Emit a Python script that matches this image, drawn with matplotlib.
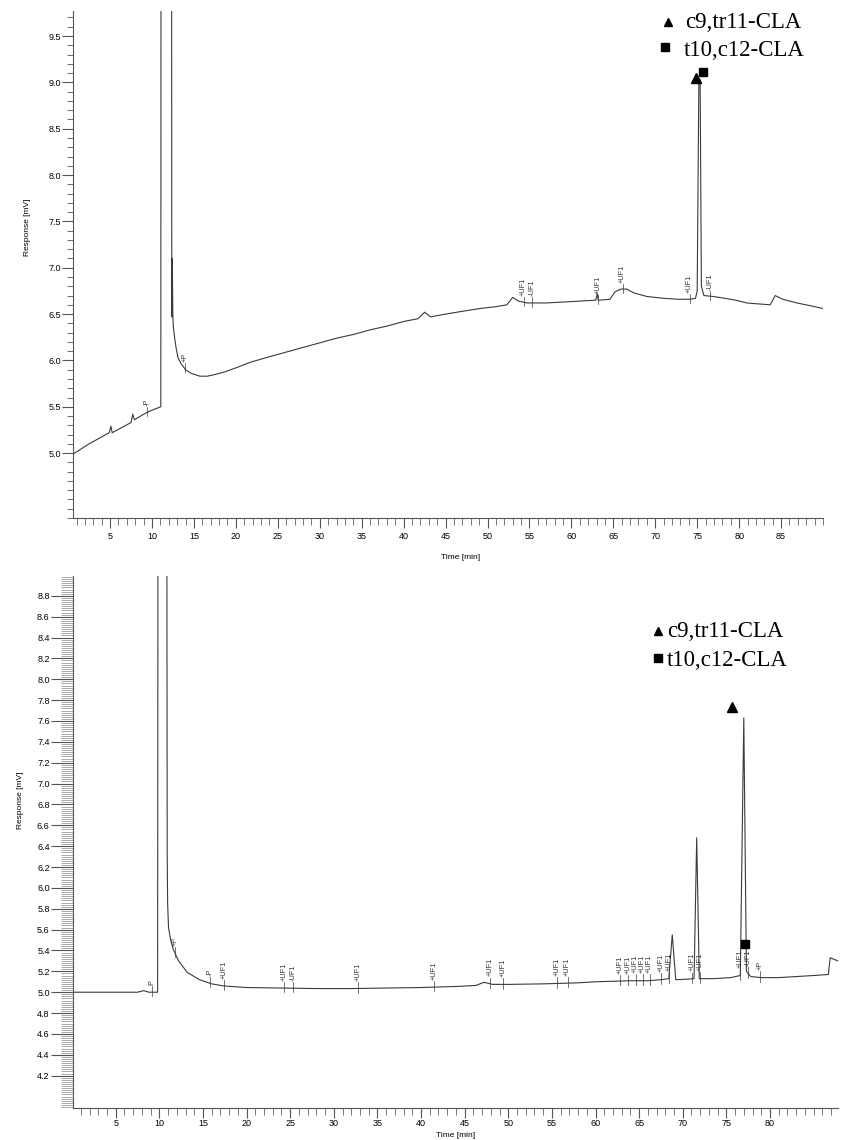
import matplotlib
matplotlib.use("Agg")
import matplotlib.pyplot as plt
from matplotlib.ticker import MultipleLocator
import numpy as np

# ---------------- data: upper chromatogram ----------------
top_time = [0.58, 2.5, 4.9, 5.1, 5.25, 7.5, 7.7, 7.9, 9.4, 10.2, 11.05,
            11.08, 12.33, 12.36, 12.42, 12.48, 12.55, 12.7, 12.9, 13.1, 13.5,
            14.0, 14.7, 15.7, 16.6, 17.6, 18.8, 20.3, 21.7, 24, 26, 28, 30, 32,
            34, 36, 38, 40, 41.7, 42.5, 43.2, 45, 47, 49.1, 51, 52.3, 53.0,
            53.7, 54.7, 55.4, 57, 59, 61.0, 62.9, 63.1, 63.2, 63.3, 64.6,
            65.2, 65.9, 66.6, 67.4, 69.0, 71.0, 72.8, 74.1, 74.8, 75.0,
            75.2, 75.35, 75.5, 75.8, 76.9, 78.3, 79.6, 80.9, 82.3, 83.7, 84.3,
            85.2, 86.9, 88.5, 90.0]
top_resp = [4.99, 5.10, 5.22, 5.29, 5.22, 5.33, 5.42, 5.36, 5.44, 5.47, 5.50,
            12.0, 12.0, 6.47, 7.10, 6.48, 6.36, 6.24, 6.12, 6.03, 5.96,
            5.90, 5.86, 5.83, 5.83, 5.85, 5.88, 5.93, 5.98, 6.04, 6.09, 6.14,
            6.19, 6.24, 6.28, 6.33, 6.37, 6.42, 6.45, 6.52, 6.47, 6.50, 6.53,
            6.56, 6.58, 6.60, 6.68, 6.64, 6.62, 6.62, 6.62, 6.63, 6.64, 6.65,
            6.72, 6.65, 6.65, 6.66, 6.74, 6.77, 6.77, 6.73, 6.69, 6.67, 6.66,
            6.66, 6.67, 6.75, 9.03, 9.03, 6.80, 6.70, 6.69, 6.67, 6.65, 6.62,
            6.61, 6.60, 6.70, 6.66, 6.62, 6.59, 6.56]
top_label_text = ["-P", "+P", "+UF1", "-UF1", "+UF1", "+UF1", "+UF1", "-UF1"]
top_label_time = [9.4, 13.9, 54.3, 55.3, 63.2, 66.1, 74.1, 76.5]

# ---------------- data: lower chromatogram ----------------
bot_time = [0.1, 4.0, 7.5, 8.2, 8.8, 9.2, 9.8, 9.84, 10.86, 10.9, 10.95,
            11.05, 11.3, 11.6, 12.2, 13.2, 14.6, 16.0, 17.4, 20.0, 24.0, 28.0,
            32.0, 36.0, 40.0, 44.0, 46.3, 47.2, 48.2, 50.0, 54.0, 58.0, 60.0,
            62.0, 64.0, 66.0, 67.5, 68.4, 68.8, 69.2, 70.5, 71.3, 71.6, 71.9,
            73.5, 75.5, 76.6, 77.0, 77.3, 77.8, 79.0, 81.0, 83.0, 85.0, 86.7,
            86.9, 87.8]
bot_resp = [5.00, 5.00, 5.00, 5.015, 5.00, 5.00, 5.00, 9.5, 9.5, 6.30, 5.85,
            5.62, 5.50, 5.41, 5.30, 5.19, 5.12, 5.08, 5.06, 5.045, 5.04, 5.035,
            5.035, 5.04, 5.045, 5.055, 5.065, 5.095, 5.075, 5.075, 5.08, 5.09,
            5.10, 5.105, 5.11, 5.11, 5.12, 5.13, 5.55, 5.12, 5.125, 5.13, 6.48,
            5.13, 5.13, 5.14, 5.16, 7.63, 5.20, 5.15, 5.14, 5.14, 5.15, 5.16,
            5.17, 5.33, 5.30]
bot_label_text = ["P", "+P", "-P", "+UF1", "+UF1", "-UF1", "+UF1", "+UF1",
                  "+UF1", "+UF1", "+UF1", "+UF1", "+UF1", "+UF1", "+UF1",
                  "+UF1", "+UF1", "+UF1", "+UF1", "+UF1", "+UF1", "+UF1",
                  "-UF1", "+P"]
bot_label_time = [9.15, 11.8, 15.8, 17.4, 24.3, 25.3, 32.8, 41.5, 47.9, 49.4,
                  55.6, 56.8, 62.8, 63.7, 64.6, 65.4, 66.2, 67.5, 68.4, 71.1,
                  72.0, 76.6, 77.5, 78.9]

peak_names = ["c9,tr11-CLA", "t10,c12-CLA"]
top_marker_time = [74.85, 75.7]
top_marker_resp = [9.05, 9.11]
bot_marker_time = [75.6, 77.1]
bot_marker_resp = [7.73, 5.46]

LINE = "#3a3a3a"
plt.rcParams["font.family"] = ["Liberation Sans", "DejaVu Sans"]

W, H = 843, 1140
fig = plt.figure(figsize=(W / 100, H / 100), dpi=100)


def px_axes(x0, y0, x1, y1):
    return fig.add_axes([x0 / W, 1 - y1 / H, (x1 - x0) / W, (y1 - y0) / H])


def style(ax, ymajor, yminor, yminor_color, ymajor_len, yminor_len, xpad):
    for s in ("top", "right"):
        ax.spines[s].set_visible(False)
    for s in ("left", "bottom"):
        ax.spines[s].set_color("#555555")
        ax.spines[s].set_linewidth(0.8)
    ax.xaxis.set_major_locator(MultipleLocator(5))
    ax.xaxis.set_minor_locator(MultipleLocator(1))
    ax.yaxis.set_major_locator(MultipleLocator(ymajor))
    ax.yaxis.set_minor_locator(MultipleLocator(yminor))
    ax.tick_params(axis="x", which="major", length=7.2, width=0.8,
                   color="#555555", labelsize=6.5, pad=xpad)
    ax.tick_params(axis="x", which="minor", length=5, width=0.7,
                   color="#777777")
    ax.tick_params(axis="y", which="major", length=ymajor_len, width=0.8,
                   color="#555555", labelsize=6.5, pad=0.8)
    ax.tick_params(axis="y", which="minor", length=yminor_len, width=0.6,
                   color=yminor_color)


def add_labels(ax, times, texts, trace_t, trace_v):
    for t, s in zip(times, texts):
        v = float(np.interp(t, trace_t, trace_v))
        ax.plot([t, t], [v - 0.04, v + 0.06], color=LINE, lw=0.5)
        ax.text(t, v + 0.07, s, rotation=90, fontsize=5.3, ha="center",
                va="bottom", color="#333333")


# ---------------- upper panel ----------------
ax1 = px_axes(73, 11, 823, 518)
ax1.plot(top_time, top_resp, color=LINE, lw=0.8)
ax1.set_xlim(0.58, 90.0)
ax1.set_ylim(4.30, 9.77)
style(ax1, 0.5, 0.1, "#555555", 8, 4, 3)
ax1.set_xticks([5 * i for i in range(1, 18)])
ax1.set_xticklabels([str(5 * i) for i in range(1, 18)])
ax1.set_yticks([5.0, 5.5, 6.0, 6.5, 7.0, 7.5, 8.0, 8.5, 9.0, 9.5])
ax1.set_ylabel("Response [mV]", fontsize=6, va="center")
ax1.yaxis.set_label_coords(-0.061, 0.574)
ax1.set_xlabel("Time [min]", fontsize=6, va="center")
ax1.xaxis.set_label_coords(0.517, -0.077)
add_labels(ax1, top_label_time, top_label_text, top_time, top_resp)
ax1.plot(top_marker_time[0], top_marker_resp[0], marker="^", ms=7,
         color="black", ls="none", clip_on=False)
ax1.plot(top_marker_time[1], top_marker_resp[1], marker="s", ms=6,
         color="black", ls="none", clip_on=False)
ax1.plot([0.793], [0.978], marker="^", ms=6, color="black",
         transform=ax1.transAxes, clip_on=False)
ax1.plot([0.789], [0.929], marker="s", ms=5.5, color="black",
         transform=ax1.transAxes, clip_on=False)
ax1.text(0.816, 0.978, peak_names[0], transform=ax1.transAxes, fontsize=16.5,
         family="Liberation Serif", va="center", ha="left")
ax1.text(0.814, 0.923, peak_names[1], transform=ax1.transAxes, fontsize=16.5,
         family="Liberation Serif", va="center", ha="left")

# ---------------- lower panel ----------------
ax2 = px_axes(73, 576, 838, 1108)
ax2.plot(bot_time, bot_resp, color=LINE, lw=0.8)
ax2.set_xlim(0.1, 87.8)
ax2.set_ylim(3.89, 8.99)
style(ax2, 0.2, 0.02, "#9a9a9a", 16, 9, 1)
ax2.set_xticks([5 * i for i in range(1, 17)])
ax2.set_xticklabels([str(5 * i) for i in range(1, 17)])
ax2.set_yticks([4.2 + 0.2 * i for i in range(24)])
ax2.set_yticklabels([f"{4.2 + 0.2 * i:.1f}" for i in range(24)])
ax2.set_ylabel("Response [mV]", fontsize=6, va="center")
ax2.yaxis.set_label_coords(-0.068, 0.579)
ax2.set_xlabel("Time [min]", fontsize=6, va="center")
ax2.xaxis.set_label_coords(0.50, -0.0526)
add_labels(ax2, bot_label_time, bot_label_text, bot_time, bot_resp)
ax2.plot(bot_marker_time[0], bot_marker_resp[0], marker="^", ms=7,
         color="black", ls="none", clip_on=False)
ax2.plot(bot_marker_time[1], bot_marker_resp[1], marker="s", ms=6,
         color="black", ls="none", clip_on=False)
ax2.plot([0.765], [0.897], marker="^", ms=6, color="black",
         transform=ax2.transAxes, clip_on=False)
ax2.plot([0.765], [0.846], marker="s", ms=5.5, color="black",
         transform=ax2.transAxes, clip_on=False)
ax2.text(0.776, 0.895, peak_names[0], transform=ax2.transAxes, fontsize=16.5,
         family="Liberation Serif", va="center", ha="left")
ax2.text(0.776, 0.842, peak_names[1], transform=ax2.transAxes, fontsize=16.5,
         family="Liberation Serif", va="center", ha="left")

fig.savefig("out.png", dpi=100)
